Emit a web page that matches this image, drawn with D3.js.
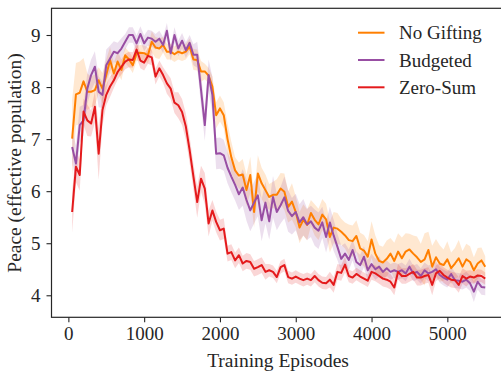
<!DOCTYPE html>
<html>
<head>
<meta charset="utf-8">
<script src="https://cdn.jsdelivr.net/npm/d3@7"></script>
<style>
  body { margin: 0; background: #fff; }
  svg { display: block; font-family: "Liberation Serif", "Times New Roman", serif; }
</style>
</head>
<body>
<svg></svg>
<script>
// Chart size and plot box (the right spine falls just outside the picture)
const width = 501, height = 372;
const plot = { left: 51.5, right: 505.9, top: 8.3, bottom: 317.3 };

// Episodes at which each run was logged
const episodes = [50,100,150,200,250,300,350,400,450,500,550,600,650,700,750,800,850,900,950,1000,
  1050,1100,1150,1200,1250,1300,1350,1400,1450,1500,1550,1600,1650,1700,1750,1800,1850,1900,1950,2000,
  2050,2100,2150,2200,2250,2300,2350,2400,2450,2500,2550,2600,2650,2700,2750,2800,2850,2900,2950,3000,
  3050,3100,3150,3200,3250,3300,3350,3400,3450,3500,3550,3600,3650,3700,3750,3800,3850,3900,3950,4000,
  4050,4100,4150,4200,4250,4300,4350,4400,4450,4500,4550,4600,4650,4700,4750,4800,4850,4900,4950,5000,
  5050,5100,5150,5200,5250,5300,5350,5400,5450,5500];

// Mean peace per series
const noGifting = [7.01,7.86,7.89,8.11,7.91,7.91,7.94,8.13,7.97,8.23,8.52,8.26,8.49,8.33,8.61,8.53,8.42,8.65,8.66,8.65,
  8.61,8.87,8.76,8.74,8.81,8.68,8.68,8.63,8.68,8.65,8.68,8.78,8.53,8.52,8.30,8.30,8.22,8.01,7.46,7.59,
  7.46,7.00,6.65,6.40,6.30,6.32,6.02,6.31,5.60,6.34,6.15,6.02,5.89,5.93,5.93,6.05,5.99,5.70,5.80,5.60,
  5.30,5.45,5.35,5.58,5.45,5.36,5.55,5.46,5.12,5.30,5.28,5.22,5.15,5.06,5.04,5.14,4.90,4.86,4.74,5.07,
  4.80,4.66,4.63,4.70,4.80,4.66,4.84,4.71,4.84,4.88,4.80,4.73,4.64,4.69,4.87,4.55,4.73,4.61,4.58,4.69,
  4.52,4.61,4.71,4.55,4.69,4.64,4.48,4.61,4.67,4.55];
const budgeted = [6.85,6.53,7.27,7.36,7.97,8.23,8.39,7.91,7.85,8.42,8.55,8.68,8.65,8.74,8.87,9.00,9.00,8.84,9.02,8.84,
  8.95,8.93,8.87,8.93,8.81,9.08,8.65,9.00,8.74,8.89,8.71,8.85,8.62,8.62,7.95,7.27,8.23,7.85,6.72,6.73,
  6.69,6.45,6.28,6.12,5.94,6.07,5.83,5.63,5.78,5.92,5.44,5.78,5.42,5.89,5.60,5.73,5.88,5.62,5.52,5.60,
  5.40,5.50,5.36,5.42,5.30,5.24,5.40,5.12,5.40,5.15,4.93,4.70,4.80,4.68,4.87,4.64,4.58,4.74,4.48,4.60,
  4.50,4.55,4.45,4.52,4.45,4.48,4.45,4.48,4.42,4.55,4.42,4.45,4.37,4.48,4.42,4.45,4.50,4.39,4.34,4.30,
  4.41,4.29,4.28,4.26,4.30,4.23,4.07,4.26,4.16,4.15];
const zeroSum = [5.60,6.47,6.31,7.53,7.36,7.30,7.62,6.72,7.56,7.85,8.01,8.13,8.29,8.39,8.49,8.53,8.52,8.72,8.51,8.47,
  8.60,8.57,8.20,8.36,8.23,8.07,7.97,7.70,7.65,7.52,7.24,6.79,6.28,5.79,6.24,6.05,5.38,5.63,5.41,5.25,
  5.28,4.80,4.83,4.67,4.77,4.61,4.66,4.64,4.51,4.54,4.58,4.45,4.48,4.45,4.35,4.54,4.58,4.35,4.32,4.36,
  4.32,4.29,4.32,4.29,4.37,4.29,4.24,4.23,4.30,4.20,4.45,4.43,4.59,4.37,4.34,4.41,4.36,4.32,4.28,4.45,
  4.42,4.37,4.32,4.30,4.26,4.15,4.45,4.37,4.37,4.41,4.45,4.34,4.34,4.37,4.39,4.20,4.42,4.47,4.39,4.34,
  4.30,4.29,4.20,4.37,4.32,4.36,4.34,4.38,4.37,4.32];

// Half-width of the shaded band around each mean
const noGiftingSpread = [0.75,0.60,0.60,0.45,0.35,0.30,0.30,0.25,0.30,0.30,0.25,0.20,0.20,0.20,0.15,0.15,0.15,0.15,0.15,0.15,
  0.15,0.20,0.20,0.20,0.15,0.15,0.15,0.15,0.15,0.15,0.15,0.15,0.20,0.20,0.20,0.15,0.15,0.20,0.25,0.25,
  0.25,0.30,0.30,0.25,0.25,0.30,0.30,0.35,0.30,0.35,0.30,0.30,0.25,0.25,0.30,0.30,0.35,0.30,0.35,0.30,
  0.30,0.30,0.30,0.25,0.30,0.30,0.30,0.30,0.30,0.30,0.30,0.25,0.25,0.30,0.30,0.30,0.30,0.30,0.30,0.35,
  0.35,0.30,0.30,0.35,0.30,0.35,0.35,0.40,0.35,0.30,0.35,0.40,0.35,0.50,0.35,0.40,0.35,0.35,0.30,0.35,
  0.30,0.30,0.35,0.30,0.30,0.30,0.25,0.30,0.25,0.20];
const budgetedSpread = [0.30,0.35,0.35,0.30,0.30,0.30,0.30,0.30,0.25,0.30,0.25,0.20,0.20,0.20,0.15,0.15,0.15,0.15,0.15,0.15,
  0.15,0.15,0.15,0.15,0.15,0.15,0.15,0.15,0.15,0.15,0.15,0.15,0.20,0.25,0.30,0.30,0.30,0.35,0.30,0.30,
  0.30,0.30,0.30,0.30,0.30,0.35,0.40,0.40,0.40,0.40,0.40,0.40,0.35,0.40,0.35,0.35,0.40,0.40,0.35,0.35,
  0.35,0.35,0.30,0.30,0.35,0.35,0.30,0.30,0.30,0.30,0.25,0.25,0.20,0.20,0.20,0.20,0.20,0.20,0.20,0.20,
  0.20,0.20,0.15,0.15,0.15,0.15,0.15,0.15,0.15,0.15,0.15,0.15,0.15,0.15,0.15,0.15,0.15,0.15,0.15,0.15,
  0.15,0.15,0.15,0.15,0.15,0.15,0.20,0.15,0.15,0.15];
const zeroSumSpread = [0.40,0.30,0.30,0.25,0.30,0.25,0.30,0.50,0.30,0.20,0.20,0.15,0.15,0.15,0.15,0.15,0.15,0.15,0.15,0.15,
  0.15,0.15,0.15,0.15,0.15,0.20,0.20,0.20,0.25,0.25,0.25,0.25,0.25,0.30,0.25,0.30,0.25,0.20,0.20,0.20,
  0.20,0.15,0.15,0.15,0.15,0.15,0.15,0.15,0.15,0.15,0.15,0.15,0.12,0.12,0.12,0.12,0.12,0.12,0.12,0.12,
  0.12,0.12,0.12,0.12,0.12,0.12,0.12,0.12,0.15,0.15,0.15,0.15,0.15,0.12,0.12,0.12,0.12,0.12,0.12,0.15,
  0.15,0.15,0.15,0.15,0.15,0.15,0.15,0.15,0.15,0.15,0.15,0.15,0.15,0.15,0.15,0.20,0.15,0.15,0.15,0.15,
  0.15,0.15,0.15,0.15,0.15,0.12,0.12,0.12,0.12,0.12];

const seriesNames = ["No Gifting", "Budgeted", "Zero-Sum"];
const colors = ["#ff7f00", "#984ea3", "#e41a1c"];
const xTicks = [0, 1000, 2000, 3000, 4000, 5000];
const yTicks = [4, 5, 6, 7, 8, 9];

const series = [
  { name: seriesNames[0], color: colors[0], mean: noGifting, spread: noGiftingSpread },
  { name: seriesNames[1], color: colors[1], mean: budgeted, spread: budgetedSpread },
  { name: seriesNames[2], color: colors[2], mean: zeroSum, spread: zeroSumSpread }
];

const svg = d3.select("svg").attr("width", width).attr("height", height);

const x = d3.scaleLinear().domain([-222.5, 5772.5]).range([plot.left, plot.right]);
const y = d3.scaleLinear().domain([3.577, 9.513]).range([plot.bottom, plot.top]);

const ink = "#262626";

// Shaded bands first, so every line sits on top
const area = d3.area()
  .x((d, i) => x(episodes[i]))
  .y0(d => y(d.m - d.s))
  .y1(d => y(d.m + d.s));

svg.append("g").selectAll("path")
  .data(series)
  .enter()
  .append("path")
  .attr("d", s => area(s.mean.map((m, i) => ({ m: m, s: s.spread[i] }))))
  .attr("fill", s => s.color)
  .attr("fill-opacity", 0.18)
  .attr("stroke", "none");

const line = d3.line()
  .x((d, i) => x(episodes[i]))
  .y(d => y(d));

svg.append("g").selectAll("path")
  .data(series)
  .enter()
  .append("path")
  .attr("d", s => line(s.mean))
  .attr("fill", "none")
  .attr("stroke", s => s.color)
  .attr("stroke-width", 2)
  .attr("stroke-linejoin", "round");

// Frame
svg.append("rect")
  .attr("x", plot.left)
  .attr("y", plot.top)
  .attr("width", plot.right - plot.left)
  .attr("height", plot.bottom - plot.top)
  .attr("fill", "none")
  .attr("stroke", ink)
  .attr("stroke-width", 1.2);

// Axes
const xAxis = svg.append("g")
  .attr("transform", `translate(0, ${plot.bottom})`)
  .call(d3.axisBottom(x).tickValues(xTicks).tickFormat(d3.format("d")).tickSize(5).tickPadding(4));

const yAxis = svg.append("g")
  .attr("transform", `translate(${plot.left}, 0)`)
  .call(d3.axisLeft(y).tickValues(yTicks).tickFormat(d3.format("d")).tickSize(5).tickPadding(6));

[xAxis, yAxis].forEach(g => {
  g.select(".domain").remove();
  g.selectAll("line").attr("stroke", ink).attr("stroke-width", 1.1);
  g.selectAll("text")
    .attr("fill", ink)
    .style("font-family", "'Liberation Serif', serif")
    .style("font-size", "19px");
});

// Axis titles
svg.append("text")
  .attr("x", 278)
  .attr("y", 366.5)
  .attr("text-anchor", "middle")
  .attr("fill", ink)
  .style("font-size", "19.5px")
  .text("Training Episodes");

svg.append("text")
  .attr("transform", "translate(20.5, 163) rotate(-90)")
  .attr("text-anchor", "middle")
  .attr("fill", ink)
  .style("font-size", "19.5px")
  .text("Peace (effective population)");

// Legend
const legend = svg.append("g").selectAll("g")
  .data(series)
  .enter()
  .append("g")
  .attr("transform", (d, i) => `translate(358, ${32.7 + i * 27.3})`);

legend.append("line")
  .attr("x1", 0).attr("x2", 26.5)
  .attr("stroke", d => d.color)
  .attr("stroke-width", 2);

legend.append("text")
  .attr("x", 41)
  .attr("y", 6.7)
  .attr("fill", ink)
  .style("font-size", "19px")
  .text(d => d.name);
</script>
</body>
</html>
